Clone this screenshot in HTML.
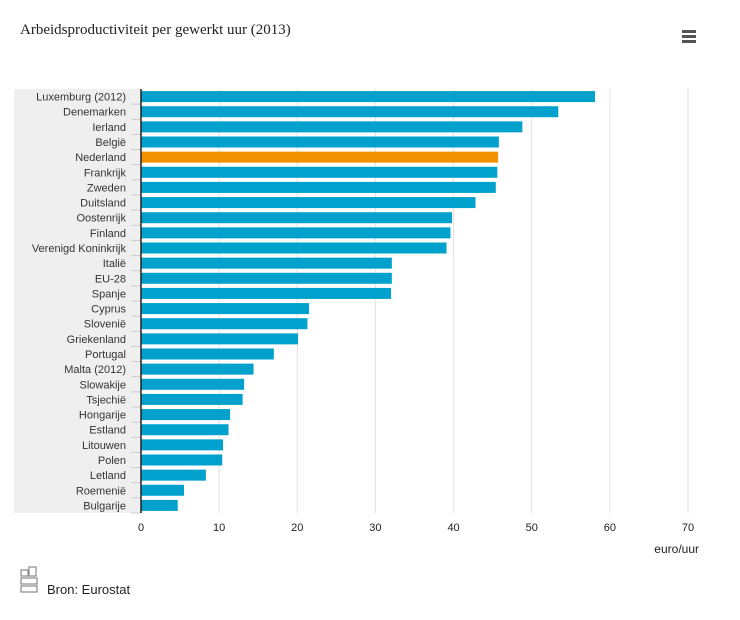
<!DOCTYPE html>
<html><head><meta charset="utf-8"><style>
body{margin:0;width:740px;height:620px;background:#fff;font-family:"Liberation Sans",sans-serif;overflow:hidden;position:relative}
#title{position:absolute;left:20px;top:22px;font-family:"Liberation Serif",serif;font-size:15px;color:#222}
#menu{position:absolute;left:682px;top:30px;width:14px}
#menu div{height:3px;background:#555;margin-bottom:2px}
</style></head><body>
<div id="title">Arbeidsproductiviteit per gewerkt uur (2013)</div>
<div id="menu"><div></div><div></div><div></div></div>
<svg id="chart" width="740" height="620" style="position:absolute;left:0;top:0"></svg>
<script>
const categories=["Luxemburg (2012)","Denemarken","Ierland","België","Nederland","Frankrijk","Zweden","Duitsland","Oostenrijk","Finland","Verenigd Koninkrijk","Italië","EU-28","Spanje","Cyprus","Slovenië","Griekenland","Portugal","Malta (2012)","Slowakije","Tsjechië","Hongarije","Estland","Litouwen","Polen","Letland","Roemenië","Bulgarije"];
const values=[58.1,53.4,48.8,45.8,45.7,45.6,45.4,42.8,39.8,39.6,39.1,32.1,32.1,32.0,21.5,21.3,20.1,17.0,14.4,13.2,13.0,11.4,11.2,10.5,10.4,8.3,5.5,4.7];
const highlight=["Nederland"];
const ticks=[0,10,20,30,40,50,60,70];
const NS="http://www.w3.org/2000/svg";
const svg=document.getElementById('chart');
const x0=141,x1=688,y0=89,y1=513;
const xs=v=>x0+(v-0)/(70-0)*(x1-x0);
const step=(y1-y0)/categories.length;
const yc=i=>y0+step*(i+0.5);
function mk(t,a){const e=document.createElementNS(NS,t);for(const k in a)e.setAttribute(k,a[k]);svg.appendChild(e);return e;}
let bg=mk('rect',{x:14,y:y0,width:x0-14,height:y1-y0,fill:'#efefef'});


ticks.forEach(t=>{
  if(t>0){let g=mk('line',{x1:xs(t),x2:xs(t),y1:y0,y2:y1,stroke:'#e2e2e2','stroke-width':1});
  
  }
  let l=mk('text',{x:xs(t),y:531,'text-anchor':'middle','font-size':11,fill:'#222'});l.textContent=t;
  
  
});
categories.forEach((c,i)=>{
  let tk=mk('line',{x1:x0-10,x2:x0,y1:y0+step*(i+1),y2:y0+step*(i+1),stroke:'#ccc'});
  
  
  let b=mk('rect',{x:x0,y:yc(i)-5.5,width:xs(values[i])-x0,height:11,fill:highlight.includes(c)?'#f39200':'#00a1cd'});
  
  
  let t=mk('text',{x:126,y:yc(i)+4,'text-anchor':'end','font-size':11,fill:'#333'});t.textContent=c;
  
  
});
let ax=mk('line',{x1:x0,x2:x0,y1:y0,y2:y1,stroke:'#222','stroke-width':1.5});


let u=mk('text',{x:699,y:553,'text-anchor':'end','font-size':12,fill:'#222'});u.textContent='euro/uur';


let logo=mk('g',{stroke:'#888',fill:'none','stroke-width':1.2});


[[21,570,7,6],[29,567,7,9],[21,578,16,6],[21,586,16,6]].forEach(r=>{const e=document.createElementNS(NS,'rect');e.setAttribute('x',r[0]);e.setAttribute('y',r[1]);e.setAttribute('width',r[2]);e.setAttribute('height',r[3]);logo.appendChild(e);});
let s=mk('text',{x:47,y:594,'font-size':13,fill:'#222'});s.textContent='Bron: Eurostat';


</script>
</body></html>
